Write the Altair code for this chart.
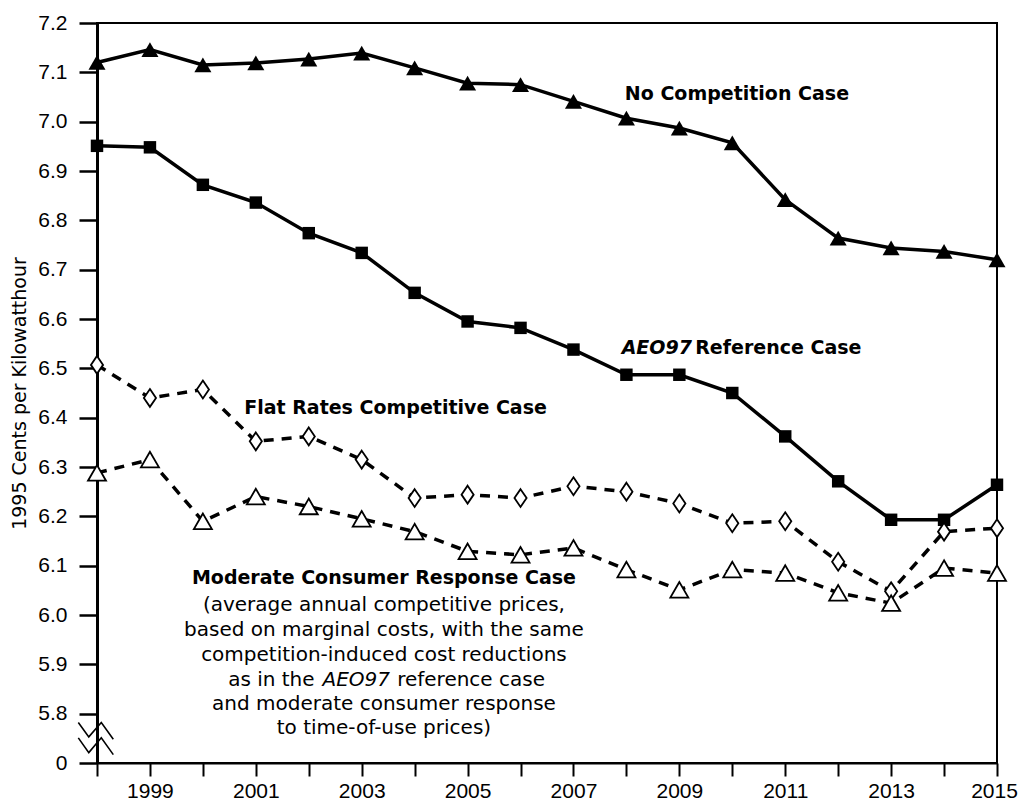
import altair as alt
import pandas as pd

years = list(range(1998, 2016))
no_competition = [7.120, 7.146, 7.115, 7.119, 7.127, 7.139, 7.109, 7.078, 7.075, 7.041,
                  7.007, 6.987, 6.957, 6.842, 6.764, 6.744, 6.737, 6.720]
aeo97_reference = [6.951, 6.948, 6.872, 6.836, 6.774, 6.734, 6.653, 6.595, 6.582, 6.538,
                   6.487, 6.487, 6.450, 6.362, 6.271, 6.193, 6.193, 6.264]
flat_rates = [6.507, 6.440, 6.457, 6.352, 6.362, 6.315, 6.237, 6.244, 6.237, 6.261,
              6.250, 6.226, 6.186, 6.190, 6.108, 6.048, 6.169, 6.176]
moderate = [6.288, 6.315, 6.190, 6.240, 6.220, 6.195, 6.169, 6.129, 6.122, 6.136,
            6.092, 6.051, 6.092, 6.085, 6.045, 6.024, 6.095, 6.085]

y_ticks = [5.7, 5.8, 5.9, 6.0, 6.1, 6.2, 6.3, 6.4, 6.5, 6.6, 6.7, 6.8, 6.9, 7.0, 7.1, 7.2]
y_title = "1995 Cents per Kilowatthour"

# axis-break zigzag (decoration)
break_x = [1997.647, 1997.845, 1998.081, 1998.308]
break_y1 = [5.782, 5.753, 5.782, 5.748]
break_y2 = [5.751, 5.721, 5.751, 5.717]

# annotation texts
bold_left_labels = ["No Competition Case", "Reference Case", "Flat Rates Competitive Case"]
bold_left_x = [2007.97, 2009.30, 2000.78]
bold_left_y = [7.057, 6.542, 6.420]

heading_italic_label = ["AEO97"]
heading_italic_x = [2007.91]
heading_italic_y = [6.542]

heading_label = ["Moderate Consumer Response Case"]
heading_x = [2003.42]
heading_y = [6.074]

body_labels = ["(average annual competitive prices,",
               "based on marginal costs, with the same",
               "competition-induced cost reductions",
               "and moderate consumer response",
               "to time-of-use prices)"]
body_y = [6.021, 5.970, 5.919, 5.820, 5.770]
body_x = [2003.42] * 5

as_in_label = ["as in the"]
as_in_x = [2002.11]
body_italic_label = ["AEO97"]
body_italic_x = [2002.26]
ref_case_label = ["reference case"]
ref_case_x = [2003.67]
as_in_y = [5.868]

xscale = alt.Scale(domain=[1998, 2015], nice=False, zero=False)
yscale = alt.Scale(domain=[5.7, 7.2], nice=False, zero=False)

xaxis = alt.Axis(
    values=years, title=None, grid=False,
    labelExpr="datum.value % 2 == 1 ? format(datum.value, 'd') : ''",
    tickSize=13, tickWidth=2, tickColor="black",
    domainWidth=2, domainColor="black",
    labelFont="Liberation Sans", labelFontSize=21, labelColor="black",
    labelPadding=4, labelFlush=False,
    labelOffset={"condition": {"test": "datum.value == 2015", "value": -3}, "value": 0},
)
yaxis = alt.Axis(
    values=y_ticks, title=y_title, grid=False,
    labelExpr="datum.value < 5.75 ? '0' : format(datum.value, '.1f')",
    tickSize=18, tickWidth=2.5, tickColor="black",
    domainWidth=3, domainColor="black",
    labelFont="Liberation Sans", labelFontSize=21, labelColor="black",
    labelPadding=12, labelFlush=False,
    titleFont="DejaVu Sans", titleFontSize=19, titleFontWeight="normal", titleColor="black",
    titleAngle=270, titleX=-72, titleY=370, titleAlign="center", titleBaseline="alphabetic",
)


def enc(ch):
    return ch.encode(
        x=alt.X("year:Q", scale=xscale, axis=xaxis),
        y=alt.Y("value:Q", scale=yscale, axis=yaxis),
    )


def series_df(vals):
    return pd.DataFrame({"year": years, "value": vals})


def text_layer(xs, ys, labels, **kw):
    df = pd.DataFrame({"year": xs, "value": ys, "label": labels})
    return enc(alt.Chart(df).mark_text(font="DejaVu Sans", baseline="middle",
                                       color="black", **kw)).encode(text="label:N")


layers = []

# dashed series
for vals in [flat_rates, moderate]:
    layers.append(enc(alt.Chart(series_df(vals)).mark_line(
        color="black", strokeWidth=3.5, strokeDash=[10, 8])))
# solid series
for vals in [no_competition, aeo97_reference]:
    layers.append(enc(alt.Chart(series_df(vals)).mark_line(
        color="black", strokeWidth=3.5)))

layers.append(enc(alt.Chart(series_df(no_competition)).mark_point(
    shape="triangle-up", filled=True, color="black", size=290, opacity=1)))
layers.append(enc(alt.Chart(series_df(aeo97_reference)).mark_point(
    shape="square", filled=True, color="black", size=155, opacity=1)))
layers.append(enc(alt.Chart(series_df(flat_rates)).mark_point(
    shape="M0,-1L0.68,0L0,1L-0.68,0Z", filled=True, fill="white", stroke="black",
    strokeWidth=1.8, size=320, opacity=1)))
layers.append(enc(alt.Chart(series_df(moderate)).mark_point(
    shape="triangle-up", filled=True, fill="white", stroke="black",
    strokeWidth=1.8, size=324, opacity=1)))

# axis break zigzags
brk = pd.DataFrame({
    "year": break_x + break_x,
    "value": break_y1 + break_y2,
    "grp": ["a"] * len(break_x) + ["b"] * len(break_x),
    "ord": list(range(len(break_x))) * 2,
})
layers.append(enc(alt.Chart(brk).mark_line(color="black", strokeWidth=1.6)).encode(
    detail="grp:N", order="ord:Q"))

# annotations
layers.append(text_layer(bold_left_x, bold_left_y, bold_left_labels,
                         fontSize=19, fontWeight="bold", align="left"))
layers.append(text_layer(heading_italic_x, heading_italic_y, heading_italic_label,
                         fontSize=19, fontWeight="bold", fontStyle="italic", align="left"))
layers.append(text_layer(heading_x, heading_y, heading_label,
                         fontSize=19, fontWeight="bold", align="center"))
layers.append(text_layer(body_x, body_y, body_labels, fontSize=20, align="center"))
layers.append(text_layer(as_in_x, as_in_y, as_in_label, fontSize=20, align="right"))
layers.append(text_layer(body_italic_x, as_in_y, body_italic_label,
                         fontSize=20, fontStyle="italic", align="left"))
layers.append(text_layer(ref_case_x, as_in_y, ref_case_label, fontSize=20, align="left"))

chart = alt.layer(*layers).properties(
    width=900, height=740,
    autosize=alt.AutoSizeParams(type="none"),
    padding={"left": 89, "top": 15, "right": 21, "bottom": 37},
    background="white",
).configure_view(stroke="black", strokeWidth=2)

chart.save("out.html", embed_options={"renderer": "svg", "actions": False})
